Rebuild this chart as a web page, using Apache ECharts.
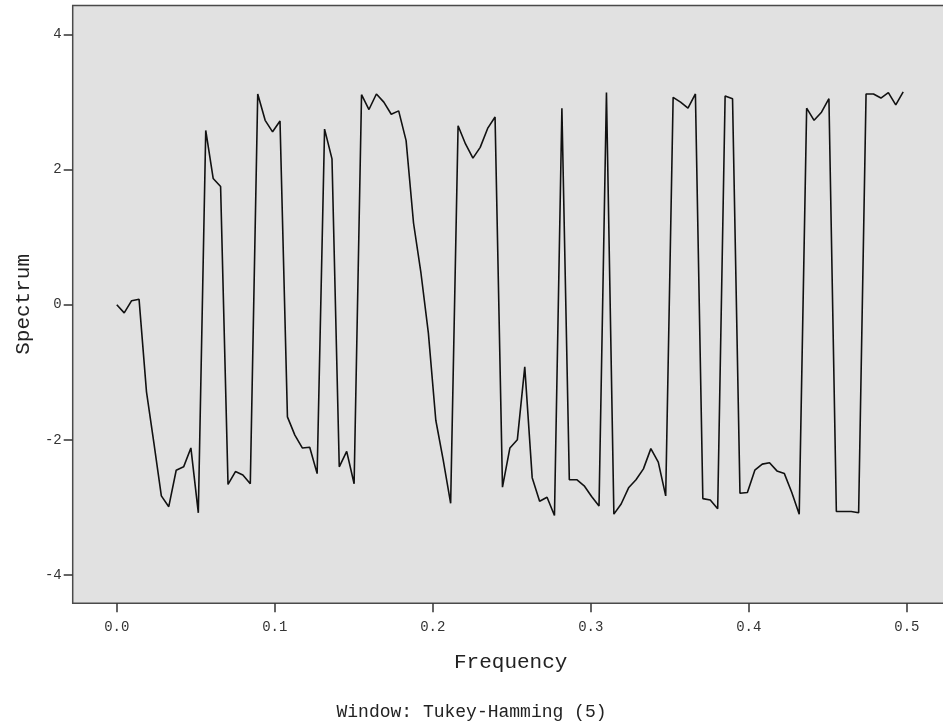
<!DOCTYPE html>
<html>
<head>
<meta charset="utf-8">
<script src="https://cdn.jsdelivr.net/npm/echarts@6/dist/echarts.min.js"></script>
<style>
html,body{margin:0;padding:0;background:#ffffff;overflow:hidden;}
#chart{width:943px;height:728px;}
</style>
</head>
<body>
<div id="chart"></div>
<script>
// Frequencies (k/213) and phase spectrum values
const frequency = [
0.0000,0.0047,0.0094,0.0141,0.0188,0.0235,0.0282,0.0329,0.0376,0.0423,
0.0469,0.0516,0.0563,0.0610,0.0657,0.0704,0.0751,0.0798,0.0845,0.0892,
0.0939,0.0986,0.1033,0.1080,0.1127,0.1174,0.1221,0.1268,0.1315,0.1362,
0.1408,0.1455,0.1502,0.1549,0.1596,0.1643,0.1690,0.1737,0.1784,0.1831,
0.1878,0.1925,0.1972,0.2019,0.2066,0.2113,0.2160,0.2207,0.2254,0.2300,
0.2347,0.2394,0.2441,0.2488,0.2535,0.2582,0.2629,0.2676,0.2723,0.2770,
0.2817,0.2864,0.2911,0.2958,0.3005,0.3052,0.3099,0.3146,0.3192,0.3239,
0.3286,0.3333,0.3380,0.3427,0.3474,0.3521,0.3568,0.3615,0.3662,0.3709,
0.3756,0.3803,0.3850,0.3897,0.3944,0.3991,0.4038,0.4085,0.4131,0.4178,
0.4225,0.4272,0.4319,0.4366,0.4413,0.4460,0.4507,0.4554,0.4601,0.4648,
0.4695,0.4742,0.4789,0.4836,0.4883,0.4930,0.4977
];
const spectrum = [
0.00,-0.12,0.06,0.08,-1.29,-2.05,-2.83,-2.99,-2.45,-2.40,
-2.12,-3.08,2.58,1.87,1.75,-2.66,-2.47,-2.52,-2.65,3.12,
2.73,2.56,2.72,-1.66,-1.93,-2.12,-2.11,-2.50,2.60,2.16,
-2.40,-2.17,-2.65,3.11,2.89,3.12,3.00,2.82,2.87,2.43,
1.21,0.47,-0.42,-1.71,-2.30,-2.94,2.65,2.38,2.17,2.33,
2.61,2.78,-2.70,-2.12,-2.00,-0.92,-2.56,-2.91,-2.85,-3.12,
2.91,-2.59,-2.59,-2.68,-2.84,-2.98,3.14,-3.10,-2.95,-2.71,
-2.59,-2.43,-2.13,-2.33,-2.83,3.07,3.00,2.91,3.12,-2.87,
-2.89,-3.02,3.09,3.05,-2.79,-2.78,-2.45,-2.36,-2.34,-2.46,
-2.50,-2.78,-3.10,2.91,2.73,2.85,3.05,-3.06,-3.06,-3.06,
-3.08,3.12,3.12,3.06,3.14,2.96,3.15
];
const xTicks = [0.0, 0.1, 0.2, 0.3, 0.4, 0.5];
const yTicks = [-4, -2, 0, 2, 4];
const footnote = 'Window: Tukey-Hamming (5)';

const mono = "'Liberation Mono', 'DejaVu Sans Mono', monospace";
const chart = echarts.init(document.getElementById('chart'));
chart.setOption({
  animation: false,
  backgroundColor: '#ffffff',
  grid: {
    left: 72.7, top: 5.5, width: 876, height: 597.8,
    show: true, backgroundColor: '#e1e1e1', borderColor: '#4a4a4a', borderWidth: 1.5,
    containLabel: false, outerBoundsMode: 'none'
  },
  xAxis: {
    type: 'value', min: -0.0279, max: 0.5265,
    name: 'Frequency', nameLocation: 'middle', nameGap: 49,
    nameTextStyle: { fontFamily: mono, fontSize: 21, color: '#222' },
    axisLine: { show: false, onZero: false },
    splitLine: { show: false },
    axisTick: { show: true, customValues: xTicks, length: 9, lineStyle: { color: '#333', width: 1.5 } },
    axisLabel: { customValues: xTicks, formatter: v => v.toFixed(1), margin: 17,
      fontFamily: mono, fontSize: 14, color: '#333' }
  },
  yAxis: {
    type: 'value', min: -4.42, max: 4.43,
    name: 'Spectrum', nameLocation: 'middle', nameGap: 31, nameRotate: 90,
    nameTextStyle: { fontFamily: mono, fontSize: 21, color: '#222' },
    axisLine: { show: false, onZero: false },
    splitLine: { show: false },
    axisTick: { show: true, customValues: yTicks, length: 9, lineStyle: { color: '#333', width: 1.5 } },
    axisLabel: { customValues: yTicks, margin: 11, fontFamily: mono, fontSize: 14, color: '#333' }
  },
  graphic: [{
    type: 'text', left: 'center', top: 703,
    style: { text: footnote, font: '18px ' + mono, fill: '#222' }
  }],
  series: [{
    type: 'line',
    data: frequency.map((f, i) => [f, spectrum[i]]),
    symbol: 'none',
    lineStyle: { color: '#111', width: 1.6 },
    clip: true
  }]
});
</script>
</body>
</html>
